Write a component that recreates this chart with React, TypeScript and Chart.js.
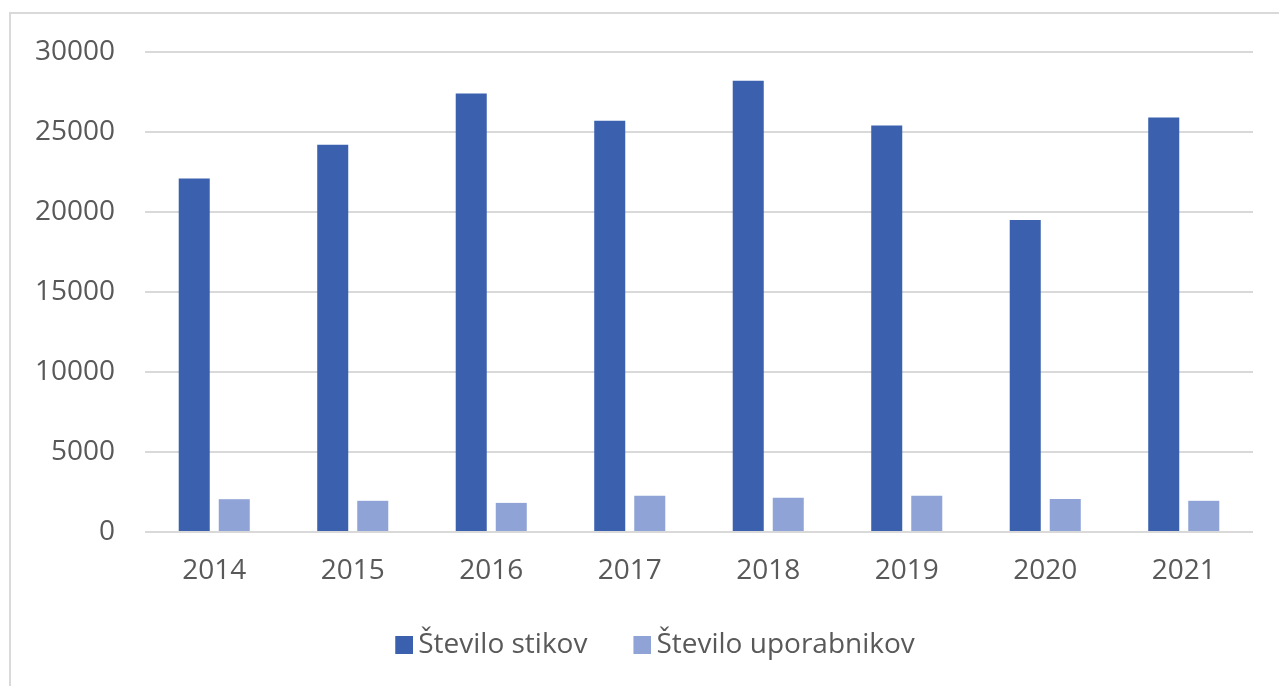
import React, { useEffect, useRef } from "react";
import { Chart, registerables } from "chart.js";

Chart.register(...registerables);

const years = ["2014", "2015", "2016", "2017", "2018", "2019", "2020", "2021"];
const stiki = [22100, 24200, 27400, 25700, 28200, 25400, 19500, 25900];
const uporabniki = [2050, 1950, 1820, 2260, 2140, 2260, 2070, 1950];
const seriesNames = ["Število stikov", "Število uporabnikov"];
const seriesColors = ["#3B61AE", "#8FA3D6"];

const MARK_W = 43;

function makeMarker(color: string) {
  const c = document.createElement("canvas");
  c.width = MARK_W + 18;
  c.height = 18;
  const g = c.getContext("2d")!;
  g.fillStyle = color;
  g.fillRect(c.width - 18, 0, 18, 18);
  return c;
}

export default function App() {
  const ref = useRef<HTMLCanvasElement | null>(null);

  useEffect(() => {
    document.body.style.margin = "0";
    const ctx = ref.current!;
    const font = { family: "'Open Sans', sans-serif", size: 28 };
    const markers = seriesColors.map(makeMarker);
    const chart = new Chart(ctx, {
      type: "bar",
      data: {
        labels: years,
        datasets: [
          {
            label: seriesNames[0],
            data: stiki,
            backgroundColor: seriesColors[0],
            categoryPercentage: 0.578,
            barPercentage: 0.775,
          },
          {
            label: seriesNames[1],
            data: uporabniki,
            backgroundColor: seriesColors[1],
            categoryPercentage: 0.578,
            barPercentage: 0.775,
          },
        ],
      },
      options: {
        animation: false,
        responsive: false,
        maintainAspectRatio: false,
        layout: { padding: { left: 23, right: 26, top: 52, bottom: 17 } },
        plugins: {
          tooltip: { enabled: false },
          legend: {
            position: "bottom",
            labels: {
              color: "#595959",
              font,
              usePointStyle: true,
              pointStyleWidth: MARK_W,
              boxWidth: MARK_W,
              boxHeight: 18,
              padding: 12,
              generateLabels: (c: any) => {
                const items = (Chart as any).defaults.plugins.legend.labels.generateLabels(c);
                return items.map((it: any, i: number) => ({ ...it, pointStyle: markers[i] }));
              },
            },
          },
        },
        scales: {
          x: {
            grid: { display: false },
            border: { display: false },
            ticks: { color: "#595959", font, padding: 14 },
            afterFit: (s: any) => {
              s.height = 87;
            },
          },
          y: {
            min: 0,
            max: 30000,
            ticks: {
              stepSize: 5000,
              color: "#595959",
              font,
              padding: 30,
              callback: (v: any) => String(v),
            },
            grid: { color: "#d9d9d9", lineWidth: 2, drawTicks: false },
            border: { display: false },
            afterFit: (s: any) => {
              s.width = 122;
            },
          },
        },
      },
    });
    return () => chart.destroy();
  }, []);

  return (
    <div style={{ position: "fixed", left: 0, top: 0, width: 1279, height: 686, background: "#fff", overflow: "hidden" }}>
      <div
        style={{
          position: "absolute",
          left: 9,
          top: 12,
          width: 1400,
          height: 800,
          border: "2px solid #d9d9d9",
          boxSizing: "border-box",
        }}
      />
      <canvas ref={ref} width={1279} height={686} style={{ position: "absolute", left: 0, top: 0, width: 1279, height: 686 }} />
    </div>
  );
}
